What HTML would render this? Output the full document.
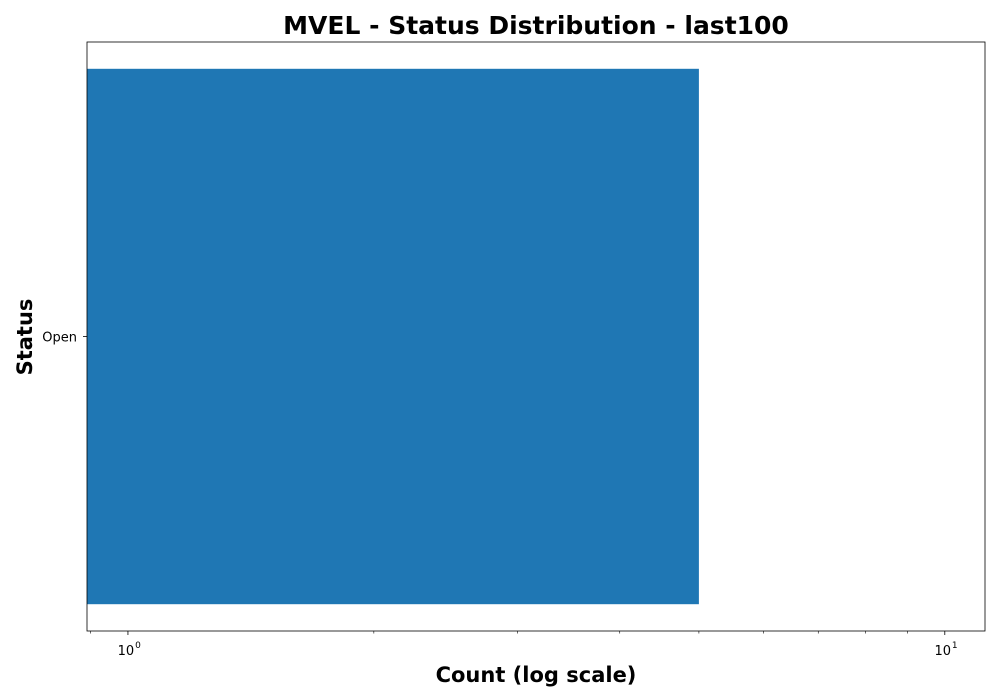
<!DOCTYPE html>
<html><head><meta charset="utf-8"><style>body{margin:0;background:#fff}svg{display:block;font-family:"DejaVu Sans","Liberation Sans",sans-serif}</style></head>
<body>
<svg id="c" width="1000" height="700"></svg>
<script>
const categories = ["Open"];
const counts = [5];
const majorTicks = [1, 10];
const majorLabels = ["0", "1"];
const minorTicks = [0.9, 2, 3, 4, 5, 6, 7, 8, 9];
const NS = "http://www.w3.org/2000/svg";
const svg = document.getElementById('c');
const L = 87, R = 985, T = 42, B = 631;
const xMin = 0.891, xMax = 11.2;
function x(v){ return L + (Math.log10(v) - Math.log10(xMin)) / (Math.log10(xMax) - Math.log10(xMin)) * (R - L); }
const band = (B - T) / categories.length;
function yc(i){ return T + band * (i + 0.5); }
function mk(tag, attrs, txt){ const e = document.createElementNS(NS, tag); for (const k in attrs) e.setAttribute(k, attrs[k]); if (txt !== undefined) e.textContent = txt; svg.appendChild(e); return e; }
categories.forEach((c, i) => {
  const h = band * 0.909;
  const r = mk('rect', {x: x(xMin), y: yc(i) - h/2, width: x(counts[i]) - x(xMin), height: h, fill: '#1f77b4'});
  
  
  const t = mk('line', {x1: L - 4, x2: L, y1: yc(i), y2: yc(i), stroke: '#000', 'stroke-width': 0.8});
  
  
  const lb = mk('text', {x: L - 10, y: yc(i) + 5, 'text-anchor': 'end', 'font-size': 13}, c);
  
  
});
minorTicks.forEach(v => {
  const t = mk('line', {x1: x(v), x2: x(v), y1: B, y2: B + 2.5, stroke: '#000', 'stroke-width': 0.6});
  
  
});
majorTicks.forEach((v, i) => {
  const t = mk('line', {x1: x(v), x2: x(v), y1: B, y2: B + 4, stroke: '#000', 'stroke-width': 0.8});
  
  
  const g = mk('text', {x: x(v) - 2, y: B + 24, 'text-anchor': 'middle', 'font-size': 13}, '10');
  
  
  const s = mk('text', {x: x(v) + 10, y: B + 17, 'text-anchor': 'middle', 'font-size': 9}, majorLabels[i]);
  
  
});
const f = mk('rect', {x: L, y: T, width: R - L, height: B - T, fill: 'none', stroke: '#000', 'stroke-width': 0.8});


const ti = mk('text', {x: 536, y: 34, 'text-anchor': 'middle', 'font-size': 25, 'font-weight': 'bold'}, 'MVEL - Status Distribution - last100');


const xt = mk('text', {x: 536, y: 682, 'text-anchor': 'middle', 'font-size': 21, 'font-weight': 'bold'}, 'Count (log scale)');


const yt = mk('text', {x: 32, y: 337, 'text-anchor': 'middle', 'font-size': 21, 'font-weight': 'bold', transform: 'rotate(-90 32 337)'}, 'Status');


</script>
</body></html>
